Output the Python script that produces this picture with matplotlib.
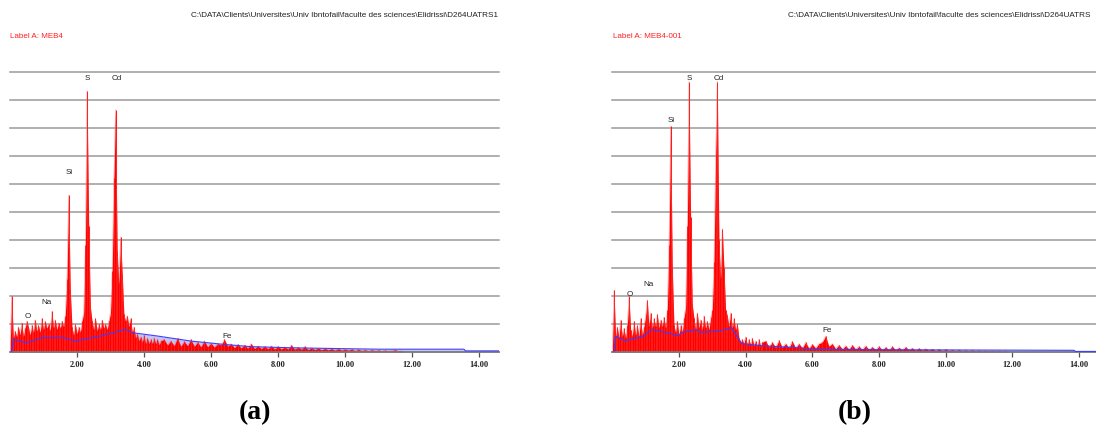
import numpy as np
import matplotlib
matplotlib.use("Agg")
import matplotlib.pyplot as plt

W, H = 1096, 430

# ---------------- data (counts in units of grid divisions) ----------------
# channels 0.00 .. 4.50 keV step 0.05, then 4.6 .. 12.0 keV step 0.1
energy_low = np.round(np.arange(0.0, 4.5001, 0.05), 2)
energy_high = np.round(np.arange(4.6, 12.0001, 0.1), 2)

counts_a_low = [
    0.0, 2.0, 0.5, 0.75, 0.55, 0.9, 0.6, 1.05, 0.55, 0.85,
    1.1, 0.9, 0.6, 0.95, 0.7, 1.15, 0.75, 0.95, 0.7, 1.2,
    0.8, 1.1, 0.85, 1.0, 0.75, 1.45, 0.85, 1.15, 0.8, 1.05,
    0.85, 1.1, 0.9, 1.3, 2.6, 5.6, 2.2, 0.9, 0.6, 1.0,
    0.65, 0.9, 0.7, 1.1, 1.4, 3.8, 9.3, 4.5, 1.6, 1.1,
    0.8, 1.2, 0.75, 1.0, 0.8, 1.15, 0.85, 1.0, 0.8, 1.1,
    1.4, 2.9, 6.2, 8.65, 3.6, 2.4, 4.1, 2.8, 1.35, 1.1,
    1.3, 0.9, 1.2, 0.7, 0.9, 0.5, 0.65, 0.4, 0.55, 0.35,
    0.6, 0.3, 0.5, 0.3, 0.45, 0.3, 0.5, 0.3, 0.45, 0.25,
    0.4]
counts_a_high = [
    0.45, 0.25, 0.4, 0.22, 0.5, 0.2, 0.38, 0.22, 0.45, 0.2,
    0.35, 0.18, 0.4, 0.18, 0.32, 0.17, 0.3, 0.25, 0.45, 0.2,
    0.3, 0.15, 0.28, 0.14, 0.25, 0.13, 0.3, 0.12, 0.22, 0.12,
    0.2, 0.11, 0.22, 0.1, 0.2, 0.1, 0.18, 0.1, 0.25, 0.09,
    0.17, 0.09, 0.2, 0.08, 0.15, 0.08, 0.14, 0.07, 0.13, 0.07,
    0.12, 0.06, 0.12, 0.06, 0.1, 0.06, 0.1, 0.05, 0.09, 0.05,
    0.08, 0.04, 0.08, 0.04, 0.07, 0.03, 0.06, 0.03, 0.05, 0.08,
    0.03, 0.04, 0.0, 0.0, 0.0]

counts_b_low = [
    0.0, 2.2, 0.55, 0.9, 0.5, 1.15, 0.55, 0.85, 0.5, 0.95,
    2.0, 0.8, 0.55, 1.1, 0.6, 0.95, 0.55, 1.2, 0.6, 0.9,
    1.3, 1.85, 0.9, 1.4, 0.85, 1.2, 0.9, 1.35, 0.85, 1.15,
    0.9, 1.25, 0.85, 1.5, 3.8, 8.05, 3.0, 0.95, 0.7, 1.1,
    0.6, 0.95, 0.7, 1.2, 1.6, 4.5, 9.65, 4.8, 1.7, 1.2,
    0.8, 1.4, 0.85, 1.15, 0.8, 1.3, 0.85, 1.1, 0.8, 1.2,
    1.5, 3.2, 7.0, 9.65, 4.0, 2.6, 4.4, 3.0, 1.5, 1.3,
    0.9, 1.4, 0.85, 1.2, 0.8, 1.0, 0.5, 0.35, 0.45, 0.3,
    0.55, 0.25, 0.45, 0.25, 0.5, 0.22, 0.4, 0.2, 0.45, 0.2,
    0.35]
counts_b_high = [
    0.4, 0.18, 0.35, 0.16, 0.42, 0.16, 0.3, 0.15, 0.38, 0.15,
    0.3, 0.14, 0.35, 0.13, 0.28, 0.14, 0.3, 0.35, 0.57, 0.2,
    0.3, 0.12, 0.25, 0.11, 0.22, 0.1, 0.25, 0.1, 0.2, 0.09,
    0.22, 0.09, 0.18, 0.08, 0.2, 0.08, 0.17, 0.08, 0.2, 0.07,
    0.16, 0.07, 0.18, 0.07, 0.14, 0.06, 0.13, 0.06, 0.12, 0.06,
    0.11, 0.05, 0.1, 0.05, 0.09, 0.05, 0.08, 0.04, 0.08, 0.04,
    0.07, 0.03, 0.07, 0.03, 0.06, 0.03, 0.05, 0.03, 0.05, 0.03,
    0.05, 0.02, 0.04, 0.0, 0.0]

# background (blue) curves
bg_a_energy = [0.05, 0.1, 0.5, 0.95, 1.6, 1.95, 2.7, 3.45, 3.65, 4.4, 5.4,
               6.4, 7.2, 8.4, 9.9, 11.0, 13.55, 13.6, 14.6]
bg_a_value = [0.0, 0.45, 0.33, 0.51, 0.51, 0.39, 0.57, 0.81, 0.69, 0.57, 0.39,
              0.27, 0.19, 0.15, 0.12, 0.1, 0.1, 0.04, 0.04]
bg_b_energy = [0.05, 0.1, 0.38, 0.93, 1.18, 1.68, 1.98, 2.08, 2.53, 2.63, 3.18,
               3.58, 3.88, 4.43, 5.72, 5.8, 6.5, 8.0, 13.85, 13.9, 14.51]
bg_b_value = [0.0, 0.56, 0.40, 0.56, 0.80, 0.68, 0.58, 0.70, 0.80, 0.70, 0.74,
              0.86, 0.30, 0.23, 0.14, 0.1, 0.09, 0.08, 0.06, 0.02, 0.02]

tick_values = [2, 4, 6, 8, 10, 12, 14]
tick_labels = ["2.00", "4.00", "6.00", "8.00", "10.00", "12.00", "14.00"]

element_labels = ["S", "Cd", "Si", "Na", "O", "Fe"]
label_pos_a = [(87.5, 78), (116.5, 78), (69.5, 173), (46.5, 303), (28, 316), (227, 336)]
label_pos_b = [(689.5, 78), (718.5, 78), (671, 121), (649, 284), (629.5, 294), (827.5, 331)]

path_a = r"C:\DATA\Clients\Universites\Univ Ibntofail\faculte des sciences\Elidrissi\D264UATRS1"
path_b = r"C:\DATA\Clients\Universites\Univ Ibntofail\faculte des sciences\Elidrissi\D264UATRS"
label_a = "Label A: MEB4"
label_b = "Label A: MEB4-001"
panel_letters = ["(a)", "(b)"]

# ---------------- drawing ----------------
fig = plt.figure(figsize=(W / 100, H / 100), dpi=100)
fig.patch.set_facecolor("white")


def fx(px):
    return px / W


def fy(py):
    return 1 - py / H


y_bot, y_top = 352.0, 71.7


def draw_panel(left, right, xmax, e_low, c_low, e_high, c_high, bg_e, bg_v):
    ax = fig.add_axes([fx(left), fy(y_bot), fx(right - left), (y_bot - y_top) / H])
    ax.set_xlim(0, xmax)
    ax.set_ylim(0, 10)
    ax.set_facecolor("none")
    for g in range(1, 11):
        ax.axhline(g, color="#9a9a9a", lw=1.1, zorder=0, clip_on=False)
    e = np.concatenate([e_low, e_high])
    c = np.concatenate([c_low, c_high])
    ax.fill_between(bg_e, 0, bg_v, color="#c4c4f2", lw=0, zorder=1)
    ax.fill_between(e, 0, c, color="#ff0000", lw=0, zorder=2)
    ax.vlines(e, 0, c, color="#ff1a1a", lw=0.75, zorder=2)
    ax.plot(e, c, color="#ff4040", lw=0.4, alpha=0.5, zorder=2)
    ax.plot(bg_e, bg_v, color="#3d3dff", lw=0.8, zorder=3)
    for s in ["left", "right", "top"]:
        ax.spines[s].set_visible(False)
    ax.spines["bottom"].set_color("#7a7a7a")
    ax.spines["bottom"].set_linewidth(1.3)
    ax.set_yticks([])
    ax.set_xticks(tick_values)
    ax.set_xticklabels(tick_labels, fontfamily="Liberation Serif",
                       fontweight="bold", fontsize=6, color="#222222")
    ax.tick_params(axis="x", direction="out", length=3.5, width=0.9,
                   color="#555555", pad=3)
    return ax


assert len(counts_a_low) == len(energy_low) == len(counts_b_low)
assert len(counts_a_high) == len(energy_high) == len(counts_b_high)

draw_panel(10, 499, 489 / 33.5, energy_low, counts_a_low, energy_high,
           counts_a_high, bg_a_energy, bg_a_value)
draw_panel(612.3, 1096, (1096 - 612.3) / 33.33, energy_low, counts_b_low,
           energy_high, counts_b_high, bg_b_energy, bg_b_value)

for name, (x, y) in zip(element_labels, label_pos_a):
    fig.text(fx(x), fy(y), name, ha="center", va="center", fontsize=5.8,
             family="Liberation Sans", color="#222222")
for name, (x, y) in zip(element_labels, label_pos_b):
    fig.text(fx(x), fy(y), name, ha="center", va="center", fontsize=5.8,
             family="Liberation Sans", color="#222222")

fig.text(fx(498), fy(15.5), path_a, ha="right", va="center", fontsize=5.9,
         family="Liberation Sans", color="#222222")
fig.text(fx(788), fy(15.5), path_b, ha="left", va="center", fontsize=5.9,
         family="Liberation Sans", color="#222222")
fig.text(fx(10.5), fy(37), label_a, ha="left", va="center", fontsize=5.8,
         family="Liberation Sans", color="#ff2020")
fig.text(fx(613), fy(37), label_b, ha="left", va="center", fontsize=5.8,
         family="Liberation Sans", color="#ff2020")

for letter, x in zip(panel_letters, [255, 855]):
    fig.text(fx(x), fy(413), letter, ha="center", va="center", fontsize=20,
             family="Liberation Serif", fontweight="bold", color="black")

fig.savefig("out.png", dpi=100, facecolor="white")
